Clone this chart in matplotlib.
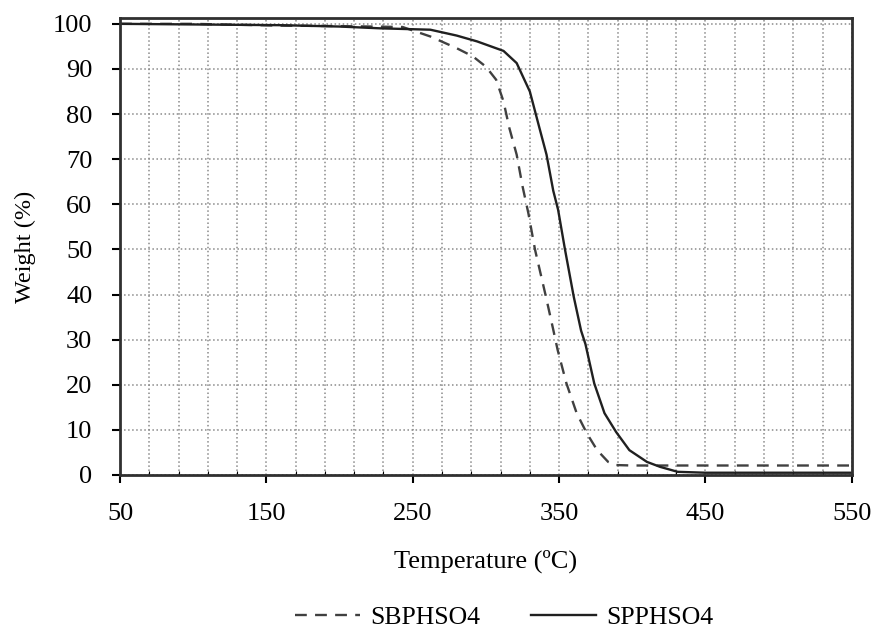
import matplotlib.pyplot as plt
from matplotlib.ticker import FixedLocator, MultipleLocator

plt.rcParams['font.family'] = ['Liberation Serif', 'DejaVu Serif']

# SBPHSO4 (dashed)
t_sb = [50, 100, 160, 200, 243, 262, 280, 291, 300, 307, 312, 316, 321, 325,
        329, 333.5, 341, 346, 349, 355, 362, 369, 376, 383.5, 389, 400, 450, 500, 550]
w_sb = [100, 100, 99.6, 99.5, 99.3, 97.2, 94.6, 92.8, 90.5, 87.6, 82.8, 76.9, 71, 64,
        58, 50, 39.5, 32.2, 27.7, 20.3, 13.7, 9.2, 5.5, 2.9, 2.2, 2.1, 2.1, 2.1, 2.1]

# SPPHSO4 (solid)
t_sp = [50, 160, 200, 228, 262, 280, 294, 312, 321, 330, 336, 341.4, 346, 349.3,
        354, 360, 365, 368, 374, 381, 389, 398, 410, 419, 431, 450, 550]
w_sp = [100, 99.7, 99.4, 99.0, 98.7, 97.4, 96.1, 94, 91.3, 85, 77.6, 71, 63, 58.8,
        50, 39.5, 32, 29, 20.3, 13.7, 9.5, 5.5, 2.9, 1.8, 0.7, 0.5, 0.5]

x_ticks = [50, 150, 250, 350, 450, 550]
x_grid = list(range(50, 551, 20))

fig = plt.figure(figsize=(8.8, 6.35), dpi=100)
ax = fig.add_axes([0.1364, 0.252, 0.968 - 0.1364, 0.9717 - 0.252])

ax.plot(t_sb, w_sb, color='#404040', lw=1.7, ls=(0, (5, 3.5)), label='SBPHSO4')
ax.plot(t_sp, w_sp, color='#202020', lw=1.7, label='SPPHSO4')

ax.set_xlim(50, 550)
ax.set_ylim(0, 101.3)
ax.xaxis.set_major_locator(FixedLocator(x_ticks))
ax.xaxis.set_minor_locator(FixedLocator(x_grid))
ax.yaxis.set_major_locator(MultipleLocator(10))

ax.grid(True, which='both', axis='x', color='#8a8a8a', ls=':', lw=1.1)
ax.grid(True, which='major', axis='y', color='#8a8a8a', ls=':', lw=1.1)

ax.tick_params(which='major', direction='out', length=6, width=1.5, labelsize=19)
ax.tick_params(axis='x', pad=14)
ax.tick_params(axis='y', pad=14)
ax.tick_params(which='minor', direction='in', length=3, width=0.8, bottom=True)

for s in ax.spines.values():
    s.set_linewidth(2)
    s.set_color('#303030')

ax.set_xlabel('Temperature (ºC)', fontsize=19, labelpad=18)
ax.set_ylabel('Weight (%)', fontsize=17.5, labelpad=12)

fig.legend(loc='center', bbox_to_anchor=(0.573, 0.027), ncol=2, frameon=False,
           fontsize=18.5, handlelength=2.5, columnspacing=2.0, handletextpad=0.4)

fig.savefig('out.png', dpi=100)
